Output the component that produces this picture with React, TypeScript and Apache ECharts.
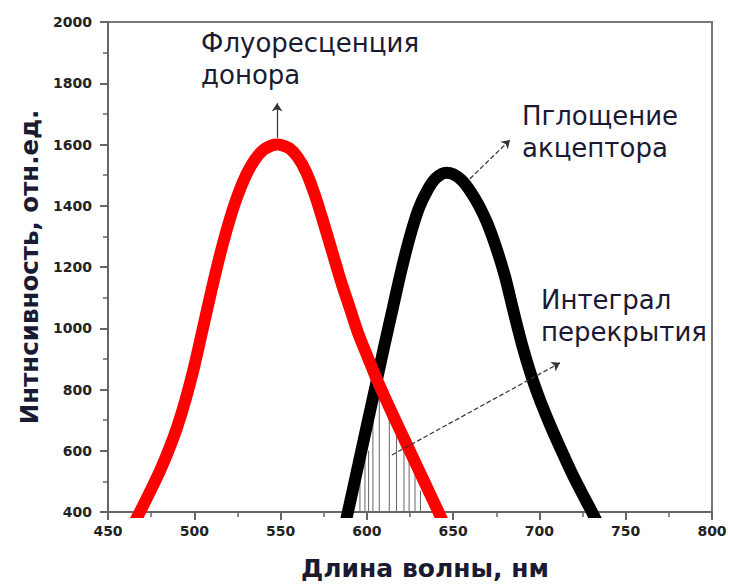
import React, { useEffect, useRef } from "react";
import * as echarts from "echarts";

// Donor fluorescence (red)
const donorX = [460, 465, 470, 475, 480, 485, 490, 495, 500, 505, 510, 515, 520, 525, 530, 535, 540, 545, 548, 550, 555, 560, 565, 570, 575, 580, 585, 590, 595, 600, 605, 610, 615, 620, 625, 630, 635, 640, 645, 650];
const donorY = [308, 362, 417, 474, 533, 600, 676, 768, 876, 1000, 1125, 1242, 1345, 1432, 1500, 1550, 1582, 1597, 1600, 1599, 1588, 1558, 1508, 1433, 1343, 1248, 1153, 1068, 983, 913, 843, 780, 718, 658, 598, 538, 478, 418, 358, 300];

// Acceptor absorption (black)
const acceptorX = [580, 585, 590, 595, 600, 605, 610, 615, 620, 625, 630, 635, 640, 646, 650, 655, 660, 665, 670, 675, 680, 685, 690, 695, 700, 705, 710, 715, 720, 725, 730, 735, 740];
const acceptorY = [175, 300, 425, 553, 682, 810, 940, 1065, 1190, 1300, 1390, 1450, 1490, 1508, 1503, 1483, 1447, 1400, 1340, 1262, 1170, 1055, 945, 850, 770, 700, 635, 573, 513, 458, 405, 350, 295];

// Overlap integral hatch lines
const hatchX = [596, 598.9, 601, 603.5, 607.2, 613, 617.2, 621.5, 624.5, 627.9, 631.1];
const hatchY = [560, 640, 600, 740, 800, 720, 665, 610, 590, 545, 470];

// Axis settings
const xMin = 450, xMax = 800, xStep = 50;
const yMin = 400, yMax = 2000, yStep = 200;

// Annotation arrows [x1, y1, x2, y2] in data coordinates
const donorArrow = [548, 1622, 548, 1735];
const acceptorArrow = [659.7, 1488, 682.9, 1615];
const integralArrow = [614.5, 586, 711.9, 887];

const xTitle = "Длина волны, нм";
const yTitle = "Интнсивность, отн.ед.";
const labelDonor = "Флуоресценция\nдонора";
const labelAcceptor = "Пглощение\nакцептора";
const labelIntegral = "Интеграл\nперекрытия";

const FONT = '"DejaVu Sans", sans-serif';

export default function App() {
  const ref = useRef<HTMLDivElement>(null);
  useEffect(() => {
    if (!ref.current) return;
    const chart = echarts.init(ref.current, null, { renderer: "svg" });
    const donor = donorX.map((x, i) => [x, donorY[i]]);
    const acceptor = acceptorX.map((x, i) => [x, acceptorY[i]]);
    const hatch = hatchX.map((x, i) => [x, hatchY[i]]);
    const arrow = (a: number[], dashed: boolean) => [
      { coord: [a[0], a[1]], symbol: "none" },
      { coord: [a[2], a[3]], symbol: "arrow", lineStyle: { type: dashed ? "dashed" : "solid" } },
    ];
    const textColor = "#1a1a33";
    const axisCommon = {
      axisLine: { show: true, lineStyle: { color: "#666", width: 2 } },
      axisTick: { show: true, length: 8, lineStyle: { color: "#666", width: 2 } },
      minorTick: { show: true, splitNumber: 2, length: 5, lineStyle: { color: "#666", width: 1.5 } },
      splitLine: { show: false },
    };
    chart.setOption({
      animation: false,
      grid: { left: 108, right: 18, top: 22, bottom: 72, show: true, borderColor: "#777", borderWidth: 2 },
      xAxis: {
        type: "value",
        min: xMin,
        max: xMax,
        interval: xStep,
        name: xTitle,
        nameLocation: "middle",
        nameGap: 44,
        nameTextStyle: { fontFamily: FONT, fontWeight: "bold", fontSize: 25, color: textColor, padding: [0, 0, 0, 30] },
        ...axisCommon,
        axisLabel: { margin: 12, fontFamily: FONT, fontWeight: "bold", fontSize: 14, color: "#222", formatter: (v: number) => String(v) },
      },
      yAxis: {
        type: "value",
        min: yMin,
        max: yMax,
        interval: yStep,
        name: yTitle,
        nameLocation: "middle",
        nameGap: 64,
        nameTextStyle: { fontFamily: FONT, fontWeight: "bold", fontSize: 24.5, color: textColor },
        ...axisCommon,
        axisLabel: { margin: 16, fontFamily: FONT, fontWeight: "bold", fontSize: 14, color: "#222", formatter: (v: number) => String(v) },
      },
      series: [
        {
          type: "custom",
          name: "hatch",
          z: 1,
          data: hatch,
          renderItem: (params: any, api: any) => {
            const p0 = api.coord([api.value(0), yMin]);
            const p1 = api.coord([api.value(0), api.value(1)]);
            return {
              type: "line",
              shape: { x1: p0[0], y1: p0[1], x2: p1[0], y2: p1[1] },
              style: { stroke: "#666", lineWidth: 1 },
            };
          },
          markLine: {
            silent: true,
            symbolSize: 8,
            label: { show: false },
            lineStyle: { color: "#333", width: 1.2 },
            data: [arrow(integralArrow, true), arrow(acceptorArrow, true), arrow(donorArrow, false)],
          },
        },
        {
          type: "line",
          name: "acceptor",
          z: 2,
          data: acceptor,
          smooth: 0.3,
          showSymbol: false,
          clip: true,
          lineStyle: { color: "#000", width: 12 },
        },
        {
          type: "line",
          name: "donor",
          z: 3,
          data: donor,
          smooth: 0.3,
          showSymbol: false,
          clip: true,
          lineStyle: { color: "#ff0000", width: 12 },
        },
      ],
      graphic: [
        { type: "text", left: 201, top: 27, style: { text: labelDonor, font: `26px ${FONT}`, fill: textColor, lineHeight: 32 } },
        { type: "text", left: 522, top: 100, style: { text: labelAcceptor, font: `26px ${FONT}`, fill: textColor, lineHeight: 32 } },
        { type: "text", left: 541, top: 284, style: { text: labelIntegral, font: `26px ${FONT}`, fill: textColor, lineHeight: 32 } },
      ],
    });
    return () => chart.dispose();
  }, []);
  return <div ref={ref} style={{ position: "fixed", left: 0, top: 0, width: 730, height: 586, background: "#fff" }} />;
}
